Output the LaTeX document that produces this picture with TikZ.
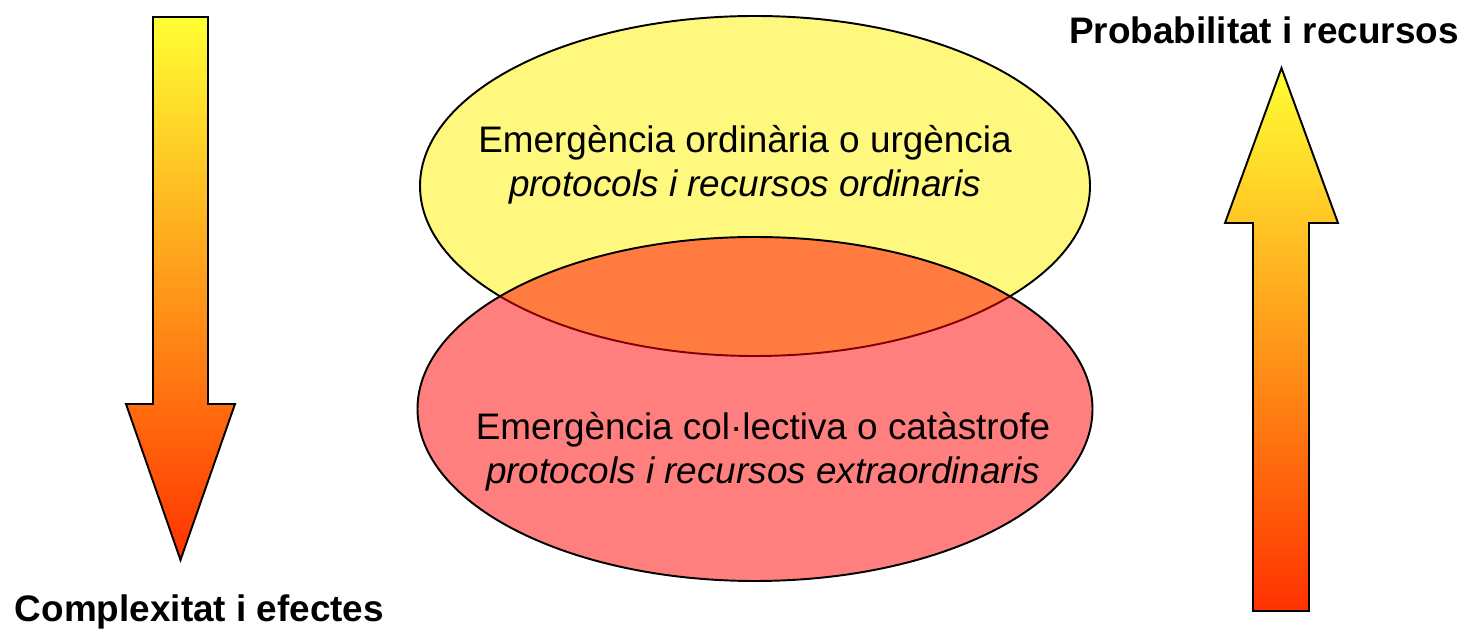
\documentclass[tikz,border=0pt]{standalone}
\usepackage{fontspec}
\setmainfont{Liberation Sans}
\usetikzlibrary{shapes.geometric}

\definecolor{arrowtop}{HTML}{FFFF33}
\definecolor{arrowmid}{HTML}{FFB828}
\definecolor{arrowbot}{HTML}{FF3300}

\begin{document}
\begin{tikzpicture}[every node/.style={font=\fontsize{21}{25}\selectfont},
    zone/.style={ellipse, draw, line width=1.1pt, minimum width=13.4cm, minimum height=6.8cm, fill opacity=0.5, draw opacity=1},
    flow/.style={draw, line width=1.1pt, top color=arrowtop, middle color=arrowmid, bottom color=arrowbot},
    tagtext/.style={font=\fontsize{21}{25}\selectfont\bfseries}]
    \useasboundingbox (0,0) rectangle (29.26,12.70);

    % arrows
    \draw[flow] (3.06,12.36) -- (4.16,12.36) -- (4.16,4.62) -- (4.70,4.62)
        -- (3.61,1.50) coordinate (tipdown) -- (2.52,4.62) -- (3.06,4.62) -- cycle;
    \draw[flow] (25.63,11.34) coordinate (tipup) -- (26.76,8.24) -- (26.18,8.24) -- (26.18,0.48)
        -- (25.06,0.48) -- (25.06,8.24) -- (24.50,8.24) -- cycle;

    % zones
    \node[zone, fill=yellow] (ordinaria) at (15.10,8.98) {};
    \node[zone, fill=red, minimum width=13.5cm, minimum height=6.88cm] (catastrofe) at (15.10,4.52) {};

    \node[align=center] (txtordinaria) at (14.90,9.40)
        {Emergència ordinària o urgència\\ \textit{protocols i recursos ordinaris}};
    \node[align=center] (txtcatastrofe) at (15.26,3.66)
        {Emergència col·lectiva o catàstrofe\\ \textit{protocols i recursos extraordinaris}};

    % labels
    \node[tagtext] (probabilitat) at (25.28,12.10) {Probabilitat i recursos};
    \node[tagtext] (complexitat) at (3.99,0.46) {Complexitat i efectes};
\end{tikzpicture}
\end{document}
